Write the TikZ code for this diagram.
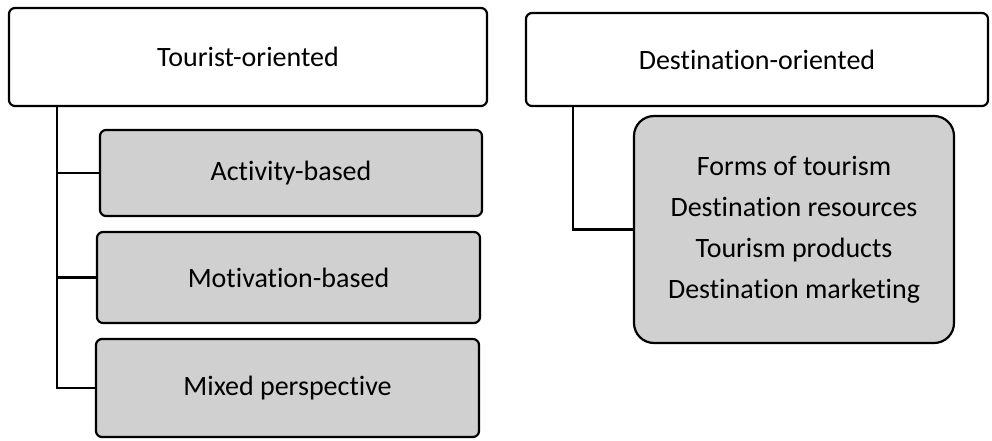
\documentclass[tikz,border=0pt]{standalone}
\usepackage{fontspec}
\setmainfont{Carlito}[Ligatures=NoCommon]
\begin{document}
\begin{tikzpicture}[x=1pt,y=-1pt,
  every node/.style={font=\fontsize{28}{41}\selectfont, align=center, inner sep=0pt},
  headbox/.style={draw=black, line width=2.2pt, fill=white, rounded corners=6pt},
  itembox/.style={draw=black, line width=2.2pt, fill=boxgray, rounded corners=6pt},
  bigbox/.style={draw=black, line width=2.2pt, fill=boxgray, rounded corners=20pt},
  link/.style={draw=black, line width=2.2pt}]
\definecolor{boxgray}{HTML}{D0D0D0}
\useasboundingbox (0,0) rectangle (992,440);

% left column
\node[headbox, minimum width=478pt, minimum height=98pt] (tourist) at (248,57) {Tourist-oriented};
\node[itembox, minimum width=382pt, minimum height=86pt] (activity) at (291,173) {Activity-based};
\node[itembox, minimum width=383pt, minimum height=91pt] (motivation) at (288.5,277.5) {Motivation-based};
\node[itembox, minimum width=383pt, minimum height=98pt] (mixed) at (287.5,388) {Mixed perspective};

% right column
\node[headbox, minimum width=462pt, minimum height=93pt] (destination) at (757,59.5) {Destination-oriented};
\node[bigbox, minimum width=320pt, minimum height=227pt] (aspects) at (794,229.5)
  {Forms of tourism\\Destination resources\\Tourism products\\Destination marketing};

% connectors
\coordinate (ltrunk) at ([xshift=49pt]tourist.south west);
\draw[link] (ltrunk) |- (mixed.west);
\draw[link] (ltrunk |- activity.west) -- (activity.west);
\draw[link] (ltrunk |- motivation.west) -- (motivation.west);
\coordinate (rtrunk) at ([xshift=48pt]destination.south west);
\draw[link] (rtrunk) |- (aspects.west);
\end{tikzpicture}
\end{document}
